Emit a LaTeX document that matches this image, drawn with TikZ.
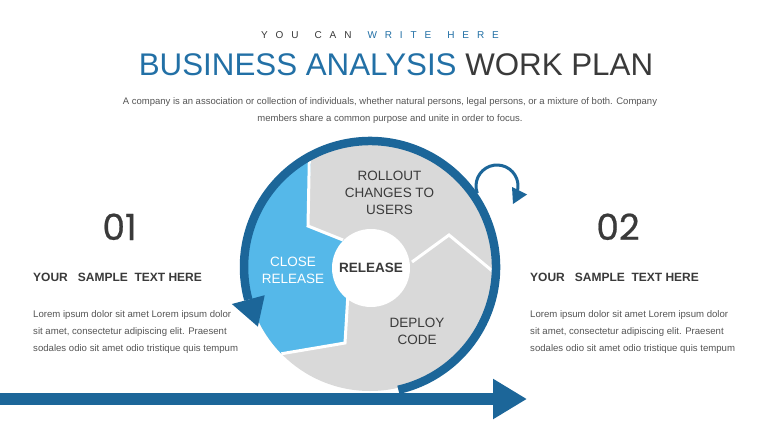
\documentclass[tikz,border=0pt]{standalone}
\usepackage{fontspec}
\setmainfont{Liberation Sans}
\newfontfamily\numfont{Poppins}[FakeBold=0.6]
\usetikzlibrary{calc,arrows.meta}
\definecolor{dblue}{HTML}{1C6699}
\definecolor{tblue}{HTML}{2270A6}
\definecolor{lblue}{HTML}{55B8E9}
\definecolor{dgray}{HTML}{D9D9D9}
\definecolor{tgray}{HTML}{3A3A3A}
\definecolor{bgray}{HTML}{555555}
\newcommand\tlk{\kern7.9pt}
\newcommand\twk{\kern16pt}
\begin{document}
\begin{tikzpicture}[x=1pt,y=-1pt,
  every node/.style={inner sep=0pt},
  tag/.style={font=\fontsize{10}{12}\selectfont, anchor=base},
  ttl/.style={font=\fontsize{31.3}{36}\selectfont, anchor=base},
  sub/.style={font=\fontsize{9.5}{11}\selectfont, text=bgray, anchor=base},
  num/.style={font=\numfont\fontsize{36}{40}\selectfont, text=tgray, anchor=base},
  head/.style={font=\bfseries\fontsize{12}{14}\selectfont, text=tgray, anchor=base west},
  body/.style={font=\fontsize{9.6}{12}\selectfont, text=bgray, anchor=base west},
  lbl/.style={font=\fontsize{13.5}{17.2}\selectfont, text=tgray, align=center},
  sepline/.style={white, line width=3pt},
  flow/.style={dblue, line width=12pt, -{Triangle[width=38pt,length=34pt]}}
]
\useasboundingbox (0,0) rectangle (760,428);
\fill[white] (0,0) rectangle (760,428);

% header
\node[tag] (tagline) at (380,39) {\textcolor{tgray}{Y\tlk O\tlk U\twk C\tlk A\tlk N}\twk\textcolor{tblue}{W\tlk R\tlk I\tlk T\tlk E\twk H\tlk E\tlk R\tlk E}};
\node[ttl] (title) at (396,75) {\textcolor{tblue}{BUSINESS ANALYSIS} \textcolor{tgray}{WORK PLAN}};
\node[sub] (sub1) at (390,104) {A company is an association or collection of individuals, whether natural persons, legal persons, or a mixture of both. Company};
\node[sub] (sub2) at (390,121) {members share a common purpose and unite in order to focus.};

% bottom flow arrow
\coordinate (hs) at (0,399);
\coordinate (he) at (527,399);
\draw[flow] (hs) -- (he);

% disk
\coordinate (C) at (370,267);
\fill[dgray] (C) circle[radius=124];
\coordinate (A) at ($(C)+(241.5:124)$);
\coordinate (Ao) at ($(C)+(241.5:127)$);
\coordinate (B) at ($(C)+(135.6:124)$);
\coordinate (p1) at (308,226);
\coordinate (p2) at (343,240);
\coordinate (q1) at (348,293);
\coordinate (q2) at (345,343);
\fill[lblue] (A) -- (p1) -- (p2) -- (C) -- (q1) -- (q2) -- (B)
  arc[start angle=135.6, end angle=241.5, radius=124] -- cycle;
\draw[sepline] (Ao) -- (p1) -- (p2);
\draw[sepline] (q1) -- (q2) -- (B);
\coordinate (r1) at (412,262);
\coordinate (r2) at (449,235);
\coordinate (r3) at (496,274);
\draw[sepline] (r1) -- (r2) -- (r3);

% ring with arrow
\draw[dblue, line width=8.5pt] ($(C)+(77:126)$) arc[start angle=77, end angle=-195, radius=126];
\fill[dblue] ($(C)+(165:109)$) -- ($(C)+(165:143)$) -- ($(C)+(152:127)$) -- cycle;

% small curl
\coordinate (cc) at (497,186);
\draw[dblue, line width=3pt] ($(cc)+(160:21)$) arc[start angle=160, end angle=372, radius=21];
\fill[dblue] (512,187) -- (527,194.5) -- (513,204) -- cycle;

% center
\node[circle, fill=white, minimum size=78pt, font=\bfseries\fontsize{13.5}{15}\selectfont, text=tgray] (rel) at (371,268) {RELEASE};
\node[lbl] (rollout) at (389.5,193) {ROLLOUT\\CHANGES TO\\USERS};
\node[lbl, text=white] (close) at (293,270) {CLOSE\\RELEASE};
\node[lbl] (deploy) at (417,331) {DEPLOY\\CODE};

% side texts
\node[num, anchor=base] (n1) at (119.5,240) {01};
\node[num, anchor=base] (n2) at (618,240) {02};
\node[head] (h1) at (33,281) {YOUR\ \ \ SAMPLE\ \ TEXT HERE};
\node[head] (h2) at (530,281) {YOUR\ \ \ SAMPLE\ \ TEXT HERE};
\node[body] (b1a) at (33,317) {Lorem ipsum dolor sit amet Lorem ipsum dolor};
\node[body] (b1b) at (33,334) {sit amet, consectetur adipiscing elit. Praesent};
\node[body] (b1c) at (33,351) {sodales odio sit amet odio tristique quis tempum};
\node[body] (b2a) at (530,317) {Lorem ipsum dolor sit amet Lorem ipsum dolor};
\node[body] (b2b) at (530,334) {sit amet, consectetur adipiscing elit. Praesent};
\node[body] (b2c) at (530,351) {sodales odio sit amet odio tristique quis tempum};
\end{tikzpicture}
\end{document}
